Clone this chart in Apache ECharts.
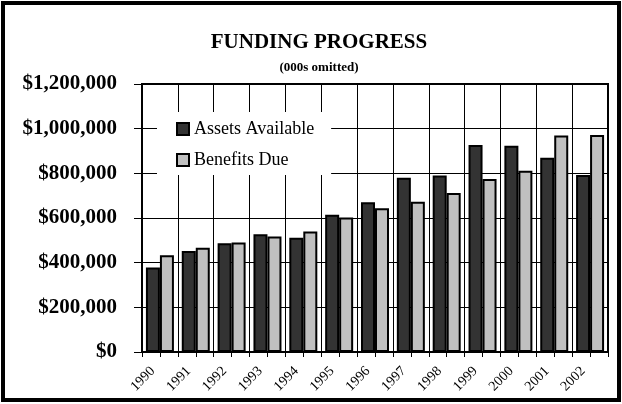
<!DOCTYPE html>
<html>
<head>
<meta charset="utf-8">
<style>
  html, body { margin: 0; padding: 0; background: #fff; }
  #chart { width: 622px; height: 404px; }
</style>
<script src="https://cdn.jsdelivr.net/npm/echarts@6/dist/echarts.min.js"></script>
</head>
<body>
<div id="chart"></div>
<script>
// Plan funding history, values in thousands of dollars
const years = ['1990', '1991', '1992', '1993', '1994', '1995', '1996', '1997', '1998', '1999', '2000', '2001', '2002'];
const assetsAvailable = [378000, 452000, 487000, 527000, 512000, 614000, 670000, 780000, 790000, 927000, 924000, 870000, 792000];
const benefitsDue = [433000, 467000, 490000, 517000, 539000, 602000, 644000, 673000, 712000, 775000, 812000, 969000, 972000];

const serif = '"Liberation Serif", "Times New Roman", serif';

function money(v) {
  return '$' + v.toString().replace(/\B(?=(\d{3})+(?!\d))/g, ',');
}

const chart = echarts.init(document.getElementById('chart'));

chart.setOption({
  animation: false,
  backgroundColor: '#fff',
  title: [
    {
      text: 'FUNDING PROGRESS',
      left: 314, top: 27, textAlign: 'center',
      textStyle: { fontFamily: serif, fontWeight: 'bold', fontSize: 21, color: '#000' }
    },
    {
      text: '(000s omitted)',
      left: 314, top: 56, textAlign: 'center',
      textStyle: { fontFamily: serif, fontWeight: 'bold', fontSize: 13, color: '#000' }
    }
  ],
  legend: {
    orient: 'vertical',
    left: 157, top: 112,
    padding: [8, 17, 6, 19],
    backgroundColor: '#fff',
    itemWidth: 12, itemHeight: 12, itemGap: 13,
    icon: 'rect',
    textStyle: { fontFamily: serif, fontSize: 18, color: '#000', lineHeight: 18 },
    data: ['Assets Available', 'Benefits Due']
  },
  grid: {
    left: 142, right: 14, top: 84, bottom: 52,
    show: true, borderColor: '#000', borderWidth: 2,
    containLabel: false
  },
  xAxis: [
    {
      type: 'category',
      data: years,
      boundaryGap: true,
      axisLine: { lineStyle: { color: '#000', width: 2 } },
      axisTick: { show: false },
      splitLine: { show: true, interval: 0, lineStyle: { color: '#000', width: 1 } },
      axisLabel: {
        interval: 0, rotate: 45, margin: 10,
        padding: [0, 10, 0, 0],
        fontFamily: serif, fontSize: 14, color: '#000'
      }
    },
    {
      // half-category tick marks under the axis
      type: 'value',
      position: 'bottom',
      min: 0, max: 26, interval: 1,
      axisLine: { show: false },
      axisTick: { show: true, length: 5, lineStyle: { color: '#000', width: 1 } },
      axisLabel: { show: false },
      splitLine: { show: false }
    }
  ],
  yAxis: {
    type: 'value',
    min: 0, max: 1200000, interval: 200000,
    axisLine: { show: true, lineStyle: { color: '#000', width: 2 } },
    axisTick: { show: true, length: 8, lineStyle: { color: '#000', width: 1 } },
    splitLine: { show: true, lineStyle: { color: '#000', width: 1 } },
    axisLabel: {
      margin: 25,
      formatter: money,
      fontFamily: serif, fontWeight: 'bold', fontSize: 21, color: '#000'
    }
  },
  series: [
    {
      name: 'Assets Available',
      type: 'bar',
      data: assetsAvailable,
      barWidth: 14,
      barGap: '0%',
      itemStyle: { color: '#333333', borderColor: '#000', borderWidth: 2 }
    },
    {
      name: 'Benefits Due',
      type: 'bar',
      data: benefitsDue,
      barWidth: 14,
      barGap: '0%',
      itemStyle: { color: '#c0c0c0', borderColor: '#000', borderWidth: 2 }
    }
  ],
  graphic: [
    {
      type: 'rect',
      silent: true,
      shape: { x: 3, y: 3, width: 616, height: 397 },
      style: { fill: 'none', stroke: '#000', lineWidth: 4 }
    }
  ]
});
</script>
</body>
</html>
